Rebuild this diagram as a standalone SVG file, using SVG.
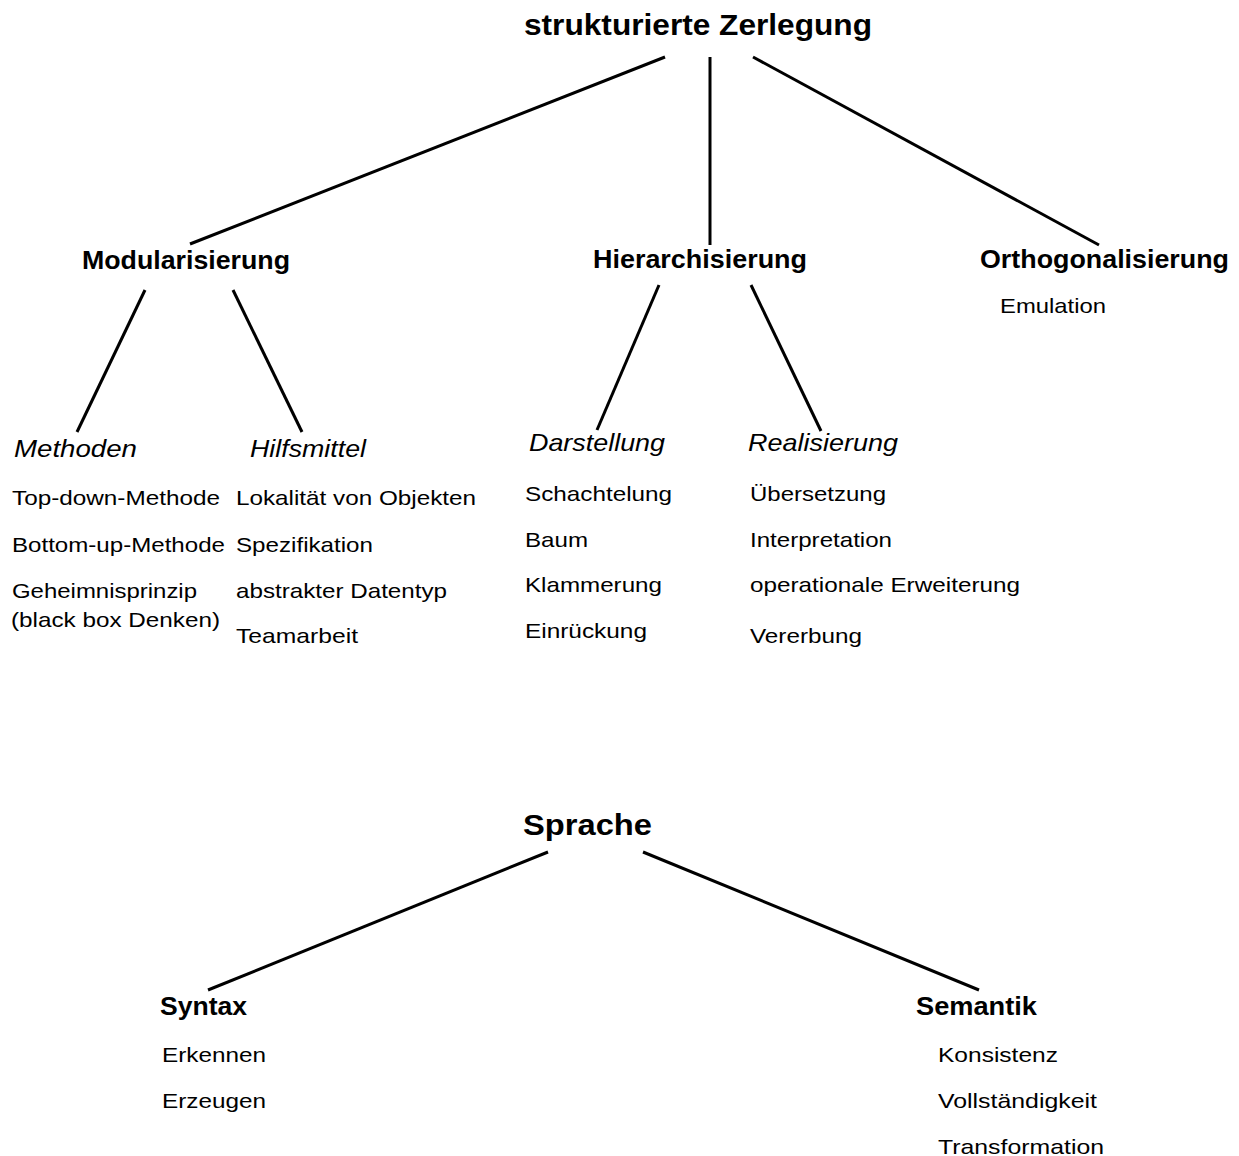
<svg xmlns="http://www.w3.org/2000/svg" width="1239" height="1156" viewBox="0 0 1239 1156">
<style>
text{font-family:"Liberation Sans",Arial,sans-serif;fill:#000}
.t{font-size:30px;font-weight:bold}
.b{font-size:25px;font-weight:bold}
.i{font-size:24px;font-style:italic}
.n{font-size:21px}
.c line{stroke:#000;stroke-width:3;stroke-linecap:butt}
</style>
<rect width="1239" height="1156" fill="#fff"/>
<g class="c" id="connectors">
<line x1="665" y1="57" x2="190" y2="244"/>
<line x1="710" y1="57" x2="710" y2="245"/>
<line x1="753" y1="57" x2="1099" y2="245"/>
<line x1="145" y1="290" x2="77" y2="432"/>
<line x1="233" y1="290" x2="302" y2="432"/>
<line x1="659" y1="285" x2="597" y2="430"/>
<line x1="751" y1="285" x2="821" y2="431"/>
<line x1="548" y1="852" x2="208" y2="990"/>
<line x1="643" y1="852" x2="979" y2="990"/>
</g>
<g id="n-root"><text class="t" x="524" y="35" textLength="348" lengthAdjust="spacingAndGlyphs">strukturierte Zerlegung</text></g>
<g id="n-modul"><text class="b" x="82" y="269" textLength="208" lengthAdjust="spacingAndGlyphs">Modularisierung</text></g>
<g id="n-hier"><text class="b" x="593" y="268" textLength="214" lengthAdjust="spacingAndGlyphs">Hierarchisierung</text></g>
<g id="n-ortho"><text class="b" x="980" y="268" textLength="249" lengthAdjust="spacingAndGlyphs">Orthogonalisierung</text>
<text class="n" x="1000" y="313" textLength="106" lengthAdjust="spacingAndGlyphs">Emulation</text></g>
<g id="n-methoden"><text class="i" x="14" y="457" textLength="123" lengthAdjust="spacingAndGlyphs">Methoden</text>
<text class="n" x="12" y="505" textLength="208" lengthAdjust="spacingAndGlyphs">Top-down-Methode</text>
<text class="n" x="12" y="552" textLength="213" lengthAdjust="spacingAndGlyphs">Bottom-up-Methode</text>
<text class="n" x="12" y="598" textLength="185" lengthAdjust="spacingAndGlyphs">Geheimnisprinzip</text>
<text class="n" x="11" y="627" textLength="209" lengthAdjust="spacingAndGlyphs">(black box Denken)</text></g>
<g id="n-hilfsmittel"><text class="i" x="250" y="457" textLength="116" lengthAdjust="spacingAndGlyphs">Hilfsmittel</text>
<text class="n" x="236" y="505" textLength="240" lengthAdjust="spacingAndGlyphs">Lokalität von Objekten</text>
<text class="n" x="236" y="552" textLength="137" lengthAdjust="spacingAndGlyphs">Spezifikation</text>
<text class="n" x="236" y="598" textLength="211" lengthAdjust="spacingAndGlyphs">abstrakter Datentyp</text>
<text class="n" x="236" y="643" textLength="122" lengthAdjust="spacingAndGlyphs">Teamarbeit</text></g>
<g id="n-darstellung"><text class="i" x="529" y="451" textLength="136" lengthAdjust="spacingAndGlyphs">Darstellung</text>
<text class="n" x="525" y="501" textLength="147" lengthAdjust="spacingAndGlyphs">Schachtelung</text>
<text class="n" x="525" y="547" textLength="63" lengthAdjust="spacingAndGlyphs">Baum</text>
<text class="n" x="525" y="592" textLength="137" lengthAdjust="spacingAndGlyphs">Klammerung</text>
<text class="n" x="525" y="638" textLength="122" lengthAdjust="spacingAndGlyphs">Einrückung</text></g>
<g id="n-realisierung"><text class="i" x="748" y="451" textLength="150" lengthAdjust="spacingAndGlyphs">Realisierung</text>
<text class="n" x="750" y="501" textLength="136" lengthAdjust="spacingAndGlyphs">Übersetzung</text>
<text class="n" x="750" y="547" textLength="142" lengthAdjust="spacingAndGlyphs">Interpretation</text>
<text class="n" x="750" y="592" textLength="270" lengthAdjust="spacingAndGlyphs">operationale Erweiterung</text>
<text class="n" x="750" y="643" textLength="112" lengthAdjust="spacingAndGlyphs">Vererbung</text></g>
<g id="n-sprache"><text class="t" x="523" y="835" textLength="129" lengthAdjust="spacingAndGlyphs">Sprache</text></g>
<g id="n-syntax"><text class="b" x="160" y="1015" textLength="87" lengthAdjust="spacingAndGlyphs">Syntax</text>
<text class="n" x="162" y="1062" textLength="104" lengthAdjust="spacingAndGlyphs">Erkennen</text>
<text class="n" x="162" y="1108" textLength="104" lengthAdjust="spacingAndGlyphs">Erzeugen</text></g>
<g id="n-semantik"><text class="b" x="916" y="1015" textLength="121" lengthAdjust="spacingAndGlyphs">Semantik</text>
<text class="n" x="938" y="1062" textLength="120" lengthAdjust="spacingAndGlyphs">Konsistenz</text>
<text class="n" x="938" y="1108" textLength="159" lengthAdjust="spacingAndGlyphs">Vollständigkeit</text>
<text class="n" x="938" y="1154" textLength="166" lengthAdjust="spacingAndGlyphs">Transformation</text></g>
</svg>
